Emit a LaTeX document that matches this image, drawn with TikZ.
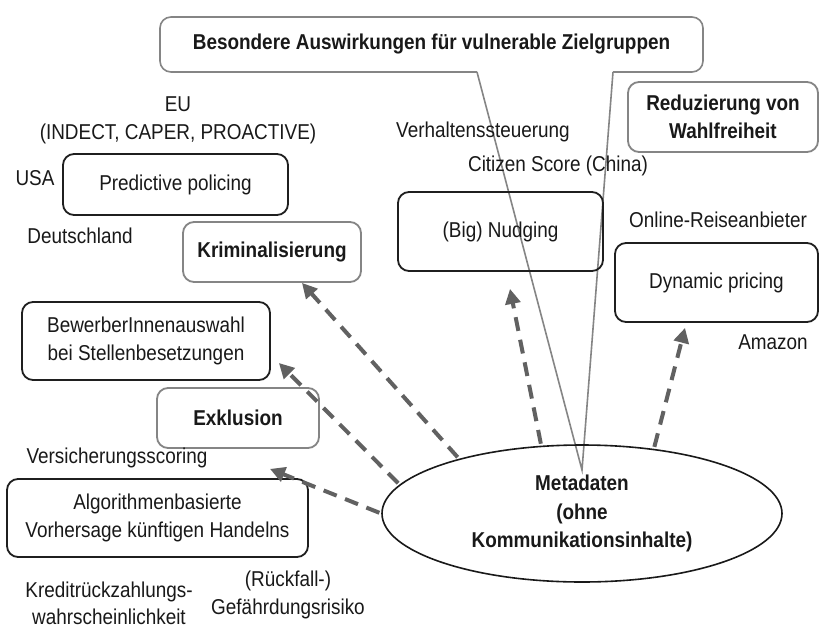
\documentclass[tikz,border=0pt]{standalone}
\usepackage{fontspec}
\setmainfont{Liberation Sans}[FakeStretch=0.88]
\usetikzlibrary{arrows.meta,shapes.geometric}
\begin{document}
\begin{tikzpicture}[x=1pt,y=-1pt,
  every node/.style={font=\fontsize{21.5}{28}\selectfont, align=center, inner sep=0pt, text=black!90},
  bbox/.style={draw=black!88, line width=1.8pt, rounded corners=11pt},
  gbox/.style={draw=black!48, line width=1.8pt, rounded corners=11pt, font=\fontsize{21.5}{28}\selectfont\bfseries},
  callout/.style={draw=black!48, line width=1.6pt},
  arr/.style={draw=black!62, line width=4pt, dash pattern=on 14pt off 9pt,
    -{Triangle[length=15pt,width=15pt]}, shorten <=2pt}]
\fill[white] (0,0) rectangle (820,630);
\useasboundingbox (0,0) rectangle (820,630);

% callout box
\coordinate (tip) at (582,470);
\draw[callout, rounded corners=11pt] (477,72) -- (160,72) -- (160,17) -- (703,17) -- (703,72) -- (613,72);
\draw[callout] (477,72) -- (tip) -- (613,72);
\node[font=\fontsize{21.5}{28}\selectfont\bfseries] (besondere) at (431.5,44) {Besondere Auswirkungen für vulnerable Zielgruppen};

% boxes
\node[bbox, minimum width=225pt, minimum height=61pt] (predictive) at (175.5,184.5) {Predictive policing};
\node[gbox, minimum width=178pt, minimum height=60pt] (krim) at (272,252) {Kriminalisierung};
\node[bbox, minimum width=205pt, minimum height=79pt] (nudging) at (500.5,231.5) {(Big) Nudging};
\node[gbox, minimum width=190pt, minimum height=70pt] (reduz) at (723,117) {Reduzierung von\\Wahlfreiheit};
\node[bbox, minimum width=203pt, minimum height=79pt] (dynamic) at (716.5,282.5) {Dynamic pricing};
\node[bbox, minimum width=248pt, minimum height=78pt] (bewerber) at (146,341) {BewerberInnenauswahl\\bei Stellenbesetzungen};
\node[gbox, minimum width=162pt, minimum height=60pt] (exkl) at (238,418) {Exklusion};
\node[bbox, minimum width=301pt, minimum height=78pt] (algo) at (157.5,518) {Algorithmenbasierte\\Vorhersage künftigen Handelns};
\node[draw=black!90, line width=1.6pt, ellipse, minimum width=400pt, minimum height=137pt,
  font=\fontsize{21.5}{28.5}\selectfont\bfseries] (meta) at (582,513.5) {Metadaten\\(ohne\\Kommunikationsinhalte)};

% labels
\node (eu) at (178,120) {EU\\(INDECT, CAPER, PROACTIVE)};
\node (usa) at (35,178) {USA};
\node (de) at (80,236) {Deutschland};
\node (verh) at (483,132) {Verhaltenssteuerung};
\node (citizen) at (558,166) {Citizen Score (China)};
\node (online) at (718,220) {Online-Reiseanbieter};
\node (amazon) at (773,342) {Amazon};
\node (vers) at (117,458) {Versicherungsscoring};
\node[font=\fontsize{21.5}{27}\selectfont] (kredit) at (109,603.5) {Kreditrückzahlungs-\\wahrscheinlichkeit};
\node (rueck) at (288,595) {(Rückfall-)\\Gefährdungsrisiko};

% arrows
\draw[arr] (meta.156) -- ([xshift=30pt]krim.south);
\draw[arr] (meta.171.8) -- ([xshift=8pt,yshift=-22pt]bewerber.east);
\draw[arr] (meta.west) -- ([xshift=32pt,yshift=-20pt]exkl.south);
\draw[arr] (meta.121.3) -- ([xshift=9.5pt,yshift=-17pt]nudging.south);
\draw[arr] (meta.42.5) -- ([xshift=-31.5pt,yshift=-5pt]dynamic.south);
\end{tikzpicture}
\end{document}
